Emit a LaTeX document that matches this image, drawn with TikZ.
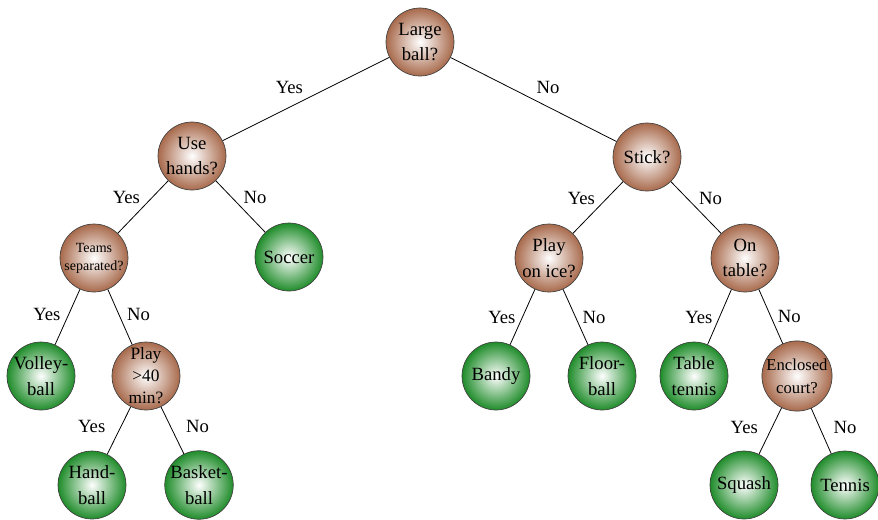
\documentclass[tikz,border=0pt]{standalone}
\usepackage{fontspec}
\setmainfont{Liberation Serif}
\definecolor{askcol}{HTML}{A86A4C}
\definecolor{leafcol}{HTML}{1F8C2A}

\begin{document}
\begin{tikzpicture}[x=0.75pt, y=-0.75pt,
    question/.style={circle, draw=black!75, line width=0.5pt, shading=radial,
        inner color=white, outer color=askcol, minimum size=51pt, inner sep=0pt,
        align=center, font=\fontsize{14}{19}\selectfont},
    sport/.style={question, outer color=leafcol},
    lbl/.style={font=\fontsize{14}{16}\selectfont, inner sep=2pt},
    branch/.style={line width=0.6pt}]
    \useasboundingbox (0,0) rectangle (878,519);

    % Fragen
    \node[question] (large) at (420,42) {Large\\ball?};
    \node[question] (hands) at (192,156) {Use\\hands?};
    \node[question] (stick) at (647,157) {Stick?};
    \node[question, font=\fontsize{10.5}{13.5}\selectfont] (teams) at (94,258) {Teams\\separated?};
    \node[question] (ice) at (549,258) {Play\\on ice?};
    \node[question] (table) at (745,258) {On\\table?};
    \node[question, font=\fontsize{13}{16.5}\selectfont] (forty) at (146,376) {Play\\>40\\min?};
    \node[question, font=\fontsize{12.5}{17}\selectfont] (court) at (797,376) {Enclosed\\court?};

    % Sportarten
    \node[sport] (soccer) at (289,257) {Soccer};
    \node[sport] (volley) at (41,376) {Volley-\\ball};
    \node[sport] (bandy) at (496,376) {Bandy};
    \node[sport] (floor) at (602,376) {Floor-\\ball};
    \node[sport] (tabten) at (694,376) {Table\\tennis};
    \node[sport] (hand) at (92,485) {Hand-\\ball};
    \node[sport] (basket) at (199,485) {Basket-\\ball};
    \node[sport] (squash) at (744,485) {Squash};
    \node[sport] (tennis) at (845,485) {Tennis};

    % Kanten
    \draw[branch] (large) -- node[lbl, above left, yshift=2pt] {Yes} (hands);
    \draw[branch] (large) -- node[lbl, above right, yshift=2pt] {No} (stick);
    \draw[branch] (hands) -- node[lbl, above left] {Yes} (teams);
    \draw[branch] (hands) -- node[lbl, above right] {No} (soccer);
    \draw[branch] (stick) -- node[lbl, above left] {Yes} (ice);
    \draw[branch] (stick) -- node[lbl, above right] {No} (table);
    \draw[branch] (teams) -- node[lbl, left=3pt, yshift=2pt] {Yes} (volley);
    \draw[branch] (teams) -- node[lbl, right=3pt, yshift=2pt] {No} (forty);
    \draw[branch] (ice) -- node[lbl, left=3pt] {Yes} (bandy);
    \draw[branch] (ice) -- node[lbl, right=3pt] {No} (floor);
    \draw[branch] (table) -- node[lbl, left=3pt] {Yes} (tabten);
    \draw[branch] (table) -- node[lbl, right=3pt] {No} (court);
    \draw[branch] (forty) -- node[lbl, left=8pt, yshift=3pt] {Yes} (hand);
    \draw[branch] (forty) -- node[lbl, right=8pt, yshift=3pt] {No} (basket);
    \draw[branch] (court) -- node[lbl, left=7pt, yshift=3pt] {Yes} (squash);
    \draw[branch] (court) -- node[lbl, right=7pt, yshift=3pt] {No} (tennis);
\end{tikzpicture}
\end{document}
